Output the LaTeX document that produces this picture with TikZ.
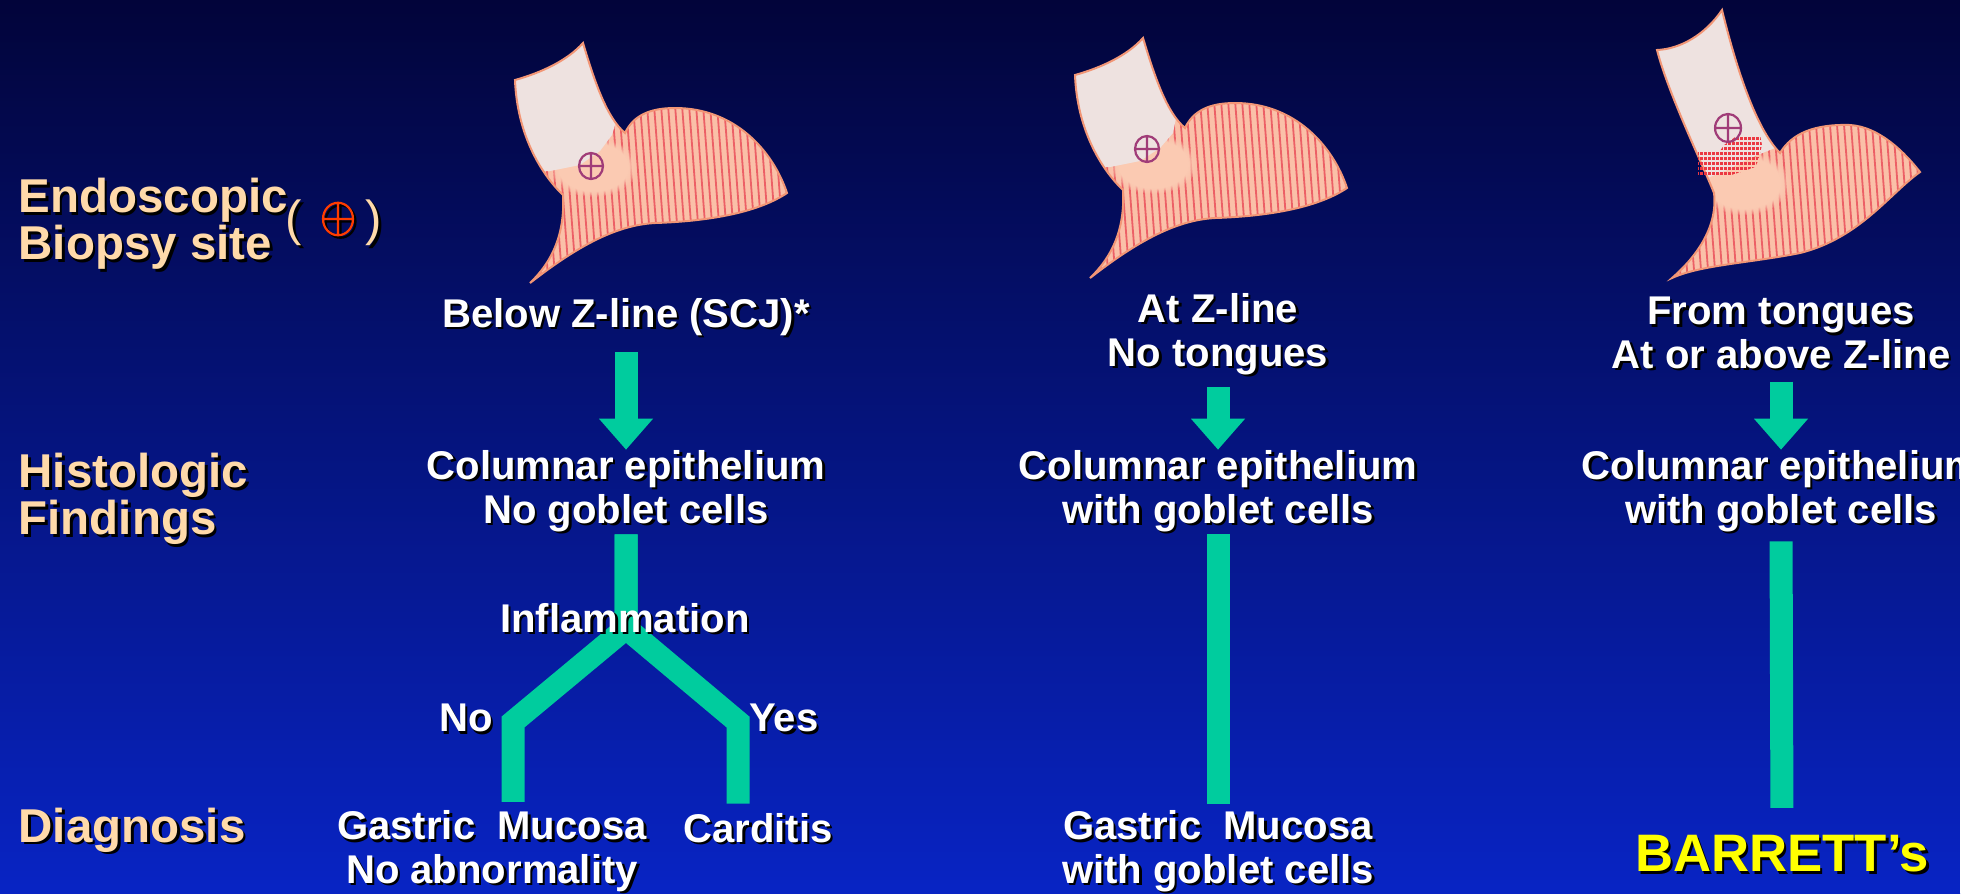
\documentclass[tikz,border=0pt]{standalone}
\usepackage{fontspec}
\setmainfont{Liberation Sans}
\usetikzlibrary{arrows.meta, positioning, calc, fadings}
\definecolor{slidetop}{RGB}{2,4,58}
\definecolor{slidemid}{RGB}{4,20,135}
\definecolor{slidebot}{RGB}{8,36,196}
\definecolor{flowgreen}{RGB}{0,204,158}
\definecolor{labelpeach}{RGB}{255,218,170}
\definecolor{barryellow}{RGB}{255,255,0}
\definecolor{tubepale}{RGB}{238,226,224}
\definecolor{gutpink}{RGB}{250,192,168}
\definecolor{gutedge}{RGB}{242,150,118}
\definecolor{gutstripe}{RGB}{236,96,102}
\definecolor{gutjoin}{RGB}{251,202,178}
\definecolor{tonguedot}{RGB}{236,56,66}
\definecolor{markpurple}{RGB}{160,60,120}
\definecolor{keyred}{RGB}{255,60,0}

% text with a dark drop shadow: [style]{name}{position}{text}
\newcommand{\shadowtext}[4][coltext]{%
  \node[#1, text=black, xshift=0.025cm, yshift=-0.025cm] at #3 {#4};
  \node[#1] (#2) at #3 {#4};}

% oesophagus + stomach outlines, origin at the junction (units are px)
\newcommand{\gutshort}{(-110,-53) .. controls (-85,-60) and (-58,-72) .. (-42,-90)
  .. controls (-30,-50) and (-18,-15) .. (0,0)
  .. controls (8,-17) and (24,-25) .. (50,-25)
  .. controls (110,-25) and (148,18) .. (162,60)
  .. controls (135,78) and (90,88) .. (30,90)
  .. controls (-10,92) and (-50,115) .. (-95,150)
  .. controls (-72,128) and (-60,100) .. (-62,62)
  .. controls (-85,40) and (-108,0) .. (-110,-53) -- cycle}
\newcommand{\gutlong}{(-123,-103) .. controls (-100,-104) and (-75,-118) .. (-58,-143)
  .. controls (-45,-90) and (-25,-25) .. (0,0)
  .. controls (12,-20) and (35,-29) .. (70,-28)
  .. controls (100,-26) and (125,0) .. (140,19)
  .. controls (110,40) and (80,85) .. (20,100)
  .. controls (-30,110) and (-80,112) .. (-108,125)
  .. controls (-85,105) and (-62,75) .. (-66,40)
  .. controls (-78,10) and (-112,-60) .. (-123,-103) -- cycle}

% {origin}{outline}{pale oesophagus part}{junction patch}
\newcommand{\stomach}[4]{%
  \begin{scope}[shift={#1}]
    \fill[gutpink] #2;
    \begin{scope}
      \clip #2;
      \foreach \s in {-170,-163,...,190}
        \draw[gutstripe, line width=0.018cm] (\s,-160) -- ++(25,330);
      \fill[gutjoin, path fading=circle with fuzzy edge 20 percent] #4;
      \fill[tubepale] #3;
    \end{scope}
    \draw[gutedge, line width=0.02cm] #2;
  \end{scope}}

\begin{document}
\begin{tikzpicture}[x=0.01cm, y=-0.01cm,
  coltext/.style={font=\fontsize{11.4}{12.4}\selectfont\bfseries, text=white, align=center, inner sep=0pt},
  sidetext/.style={font=\fontsize{13.5}{13.3}\selectfont\bfseries, text=labelpeach, align=left, anchor=west, inner sep=0pt},
  keyparen/.style={font=\fontsize{14}{14}\selectfont, text=labelpeach, inner sep=0pt},
  verdict/.style={font=\fontsize{15}{15}\selectfont\bfseries, text=barryellow, inner sep=0pt},
  flow/.style={draw=flowgreen, line width=0.23cm, -{Triangle[length=0.31cm, width=0.52cm]}},
  stem/.style={draw=flowgreen, line width=0.23cm, line join=miter},
  biopsy/.pic={\draw (0,0) ellipse [x radius=12, y radius=13] (-12,0) -- (12,0) (0,-13) -- (0,13);},
]
  \useasboundingbox (0,0) rectangle (1977,893);
  \shade[top color=slidetop, middle color=slidemid, bottom color=slidebot] (0,0) rectangle (1960,893);

  % the three stomachs
  \stomach{(625,133)}{\gutshort}
    {(-150,-120) -- (-8,-120) -- (-8,-15) -- (-13,2) -- (-25,18) -- (-45,32) -- (-60,35) -- (-75,38) -- (-150,38) -- cycle}
    {(-32,34) ellipse [x radius=44, y radius=30]}
  \stomach{(1185,128)}{\gutshort}
    {(-150,-120) -- (-8,-120) -- (-8,-15) -- (-12,5) -- (-25,20) -- (-45,33) -- (-60,36) -- (-75,39) -- (-150,39) -- cycle}
    {(-32,36) ellipse [x radius=44, y radius=30]}
  \stomach{(1780,153)}{\gutlong}
    {(-160,-160) -- (-5,-160) -- (-5,-5) -- (-30,5) -- (-55,18) -- (-80,28) -- (-160,28) -- cycle}
    {(-36,30) ellipse [x radius=46, y radius=32]}
  % columnar tongues reaching up the oesophagus
  \begin{scope}[shift={(1780,153)}]
    \clip (-42,-18) -- (-20,-18) -- (-18,-8) -- (-22,8) -- (-25,14) -- (-36,18) -- (-52,23)
      -- (-82,23) -- (-82,-2) -- (-60,-2) -- (-56,-8) -- cycle;
    \foreach \y in {-16,-11,...,22}
      \foreach \x in {-84,-80,...,-16}
        \fill[tonguedot] (\x,\y) rectangle ++(3,3);
  \end{scope}

  \pic[draw=markpurple, line width=0.022cm] at (591,166) {biopsy};
  \pic[draw=markpurple, line width=0.022cm] at (1147,149) {biopsy};
  \pic[draw=markpurple, line width=0.022cm, scale=1.08] at (1728,128) {biopsy};

  % row titles
  \shadowtext[sidetext]{endo}{(18,224)}{Endoscopic\\Biopsy site}
  \shadowtext[keyparen]{keyopen}{(294,223)}{(}
  \shadowtext[keyparen]{keyclose}{(374,223)}{)}
  \pic[draw=black, line width=0.022cm, scale=1.25] at (340.5,221.5) {biopsy};
  \pic[draw=keyred, line width=0.022cm, scale=1.25] at (338,219) {biopsy};
  \shadowtext[sidetext]{histo}{(18,499)}{Histologic\\Findings}
  \shadowtext[sidetext]{diag}{(18,830)}{Diagnosis}

  % left column
  \shadowtext{siteA}{(626,317)}{Below Z-line (SCJ)*}
  \shadowtext{findA}{(626,491)}{Columnar epithelium\\No goblet cells}
  \shadowtext{no}{(466,718)}{No}
  \shadowtext{yes}{(784,718)}{Yes}
  \shadowtext{gastricA}{(492,851)}{Gastric~~Mucosa\\No abnormality}
  \shadowtext{carditis}{(758,828)}{Carditis}

  % middle column
  \shadowtext{siteB}{(1218,334)}{At Z-line\\No tongues}
  \shadowtext{findB}{(1218,491)}{Columnar epithelium\\with goblet cells}
  \shadowtext{gastricB}{(1218,851)}{Gastric~~Mucosa\\with goblet cells}

  % right column
  \shadowtext{siteC}{(1781,333)}{From tongues\\At or above Z-line}
  \shadowtext{findC}{(1781,491)}{Columnar epithelium\\with goblet cells}
  \shadowtext[verdict]{barrett}{(1782,854)}{BARRETT’s}

  % connectors
  \draw[flow, shorten <=0.16cm, shorten >=0.0cm] (siteA.south) -- (findA.north);
  \draw[flow, shorten <=0.12cm] (siteB.south) -- (findB.north);
  \draw[flow, shorten <=0.12cm] (siteC.south) -- (findC.north);
  \coordinate (fork) at (626,628);
  \coordinate (bendL) at (513,722);
  \coordinate (bendR) at (738,722);
  \draw[stem, shorten <=0.02cm, shorten >=0.08cm] (findA.south) -- (fork) -- (bendL) -- (bendL |- gastricA.north);
  \draw[stem, shorten <=0.02cm, shorten >=0.09cm] (findA.south) -- (fork) -- (bendR) -- (bendR |- carditis.north);
  \draw[stem, shorten <=0.02cm, shorten >=0.06cm] (findB.south) -- (gastricB.north);
  \draw[stem, shorten <=0.09cm, shorten >=0.27cm] (findC.south) -- (barrett.north);
  \shadowtext{inflam}{(625,618)}{Inflammation}

  \fill[white] (1960,0) rectangle (1977,893);
\end{tikzpicture}
\end{document}
